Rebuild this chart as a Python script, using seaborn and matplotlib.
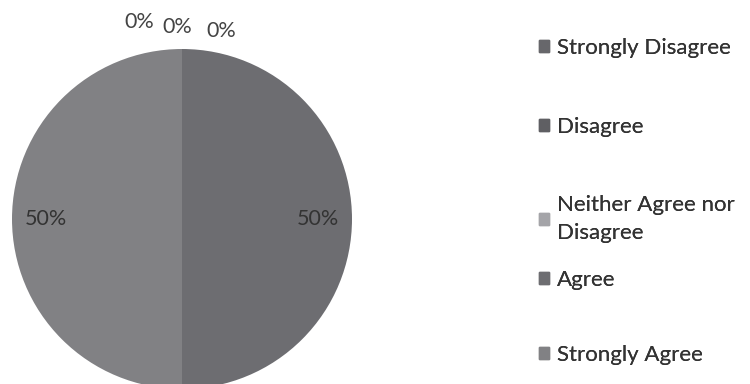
import matplotlib
matplotlib.use("Agg")
import matplotlib.pyplot as plt
import matplotlib.patches as mpatches
import seaborn as sns

categories = ["Strongly Disagree", "Disagree", "Neither Agree nor\nDisagree",
              "Agree", "Strongly Agree"]
values = [0, 0, 0, 50, 50]
colors = ["#67676b", "#5f5f63", "#a4a4a8", "#6d6d71", "#818184"]

# where Excel pushed the crowded 0% labels (data units, radius = 1)
zero_label_pos = [(-0.25, 1.16), (-0.03, 1.13), (0.23, 1.105)]
# vertical centre of each legend entry, in pixels from the top
legend_rows = [48, 127, 219, 280, 355]

sns.set_style("white")
plt.rcParams['font.family'] = ['Lato', 'DejaVu Sans']

fig = plt.figure(figsize=(7.5, 3.84), dpi=100)
ax = fig.add_axes([12 / 750, -5 / 384, 340 / 750, 340 / 384])

wedges, texts, pcts = ax.pie(values, colors=colors, startangle=90,
                             counterclock=False, autopct='%1.0f%%',
                             pctdistance=0.8,
                             wedgeprops=dict(linewidth=0),
                             textprops=dict(color="#333333", fontsize=15.5))
ax.set_aspect("equal")
ax.set_xlim(-1, 1)
ax.set_ylim(-1, 1)
ax.axis("off")

# move the zero labels above the pie like the original
i = 0
for t, v in zip(pcts, values):
    if v == 0:
        t.set_position(zero_label_pos[i])
        t.set_color("#444444")
        i += 1

# one legend per entry so the uneven Excel spacing can be kept
for c, lab, y in zip(colors, categories, legend_rows):
    h = mpatches.Patch(color=c, label=lab)
    leg = fig.legend(handles=[h], loc="center left",
                     bbox_to_anchor=(539 / 750, 1 - y / 384),
                     frameon=False, fontsize=16,
                     handlelength=0.45, handleheight=0.45, handletextpad=0.35,
                     borderpad=0, borderaxespad=0, labelcolor="#333333")
    for t in leg.get_texts():
        t.set_linespacing(1.55)
    fig.add_artist(leg)

fig.savefig("out.png", dpi=100, facecolor="white")
